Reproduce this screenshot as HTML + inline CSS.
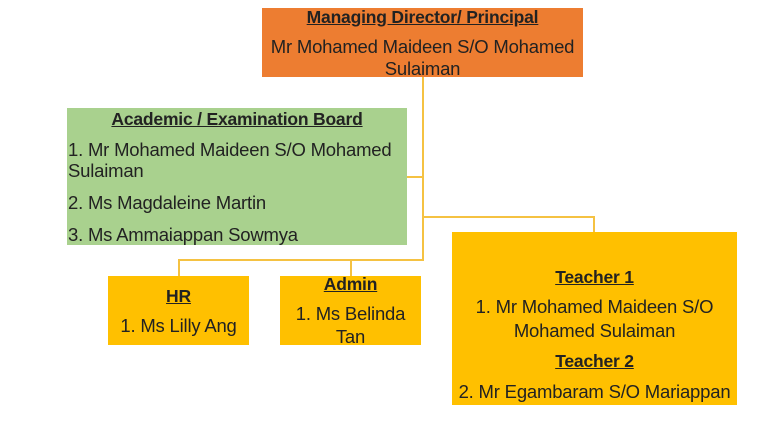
<!DOCTYPE html>
<html><head><style>
body{margin:0;width:768px;height:429px;background:#fff;position:relative;overflow:hidden;font-family:"Liberation Sans",Arial,sans-serif;color:#222}
.b{position:absolute}
.t{position:absolute;white-space:nowrap;font-size:18.5px;line-height:22px;letter-spacing:-0.2px}
.c{text-align:center}
.h{font-weight:bold;text-decoration:underline;font-size:17.5px}
.l{position:absolute;background:#F5C242}
</style></head><body>
<div class="l" style="left:422px;top:77px;width:1.5px;height:184px"></div>
<div class="l" style="left:407px;top:176px;width:16px;height:1.5px"></div>
<div class="l" style="left:422px;top:216px;width:172px;height:1.5px"></div>
<div class="l" style="left:593px;top:216px;width:1.5px;height:17px"></div>
<div class="l" style="left:178px;top:259px;width:245px;height:1.5px"></div>
<div class="l" style="left:178px;top:259px;width:1.5px;height:17px"></div>
<div class="l" style="left:350px;top:259px;width:1.5px;height:17px"></div>

<div class="b" style="left:262px;top:8px;width:321px;height:69px;background:#ED7D31"></div>
<div class="t c h" style="left:262px;top:6px;width:321px">Managing Director/ Principal</div>
<div class="t c" style="left:262px;top:36px;width:321px">Mr Mohamed Maideen S/O Mohamed</div>
<div class="t c" style="left:262px;top:58px;width:321px">Sulaiman</div>

<div class="b" style="left:67px;top:108px;width:340px;height:137px;background:#A9D18E"></div>
<div class="t c h" style="left:67px;top:108px;width:340px">Academic / Examination Board</div>
<div class="t" style="left:68px;top:139px">1. Mr Mohamed Maideen S/O Mohamed</div>
<div class="t" style="left:68px;top:160px">Sulaiman</div>
<div class="t" style="left:68px;top:192px">2. Ms Magdaleine Martin</div>
<div class="t" style="left:68px;top:224px">3. Ms Ammaiappan Sowmya</div>

<div class="b" style="left:108px;top:276px;width:141px;height:69px;background:#FFC000"></div>
<div class="t c h" style="left:108px;top:285px;width:141px">HR</div>
<div class="t c" style="left:108px;top:315px;width:141px">1. Ms Lilly Ang</div>

<div class="b" style="left:280px;top:276px;width:141px;height:69px;background:#FFC000"></div>
<div class="t c h" style="left:280px;top:273px;width:141px">Admin</div>
<div class="t c" style="left:280px;top:303px;width:141px">1. Ms Belinda</div>
<div class="t c" style="left:280px;top:326px;width:141px">Tan</div>

<div class="b" style="left:452px;top:232px;width:285px;height:173px;background:#FFC000"></div>
<div class="t c h" style="left:452px;top:266px;width:285px">Teacher 1</div>
<div class="t c" style="left:452px;top:296px;width:285px">1. Mr Mohamed Maideen S/O</div>
<div class="t c" style="left:452px;top:320px;width:285px">Mohamed Sulaiman</div>
<div class="t c h" style="left:452px;top:350px;width:285px">Teacher 2</div>
<div class="t c" style="left:452px;top:381px;width:285px">2. Mr Egambaram S/O Mariappan</div>
</body></html>
